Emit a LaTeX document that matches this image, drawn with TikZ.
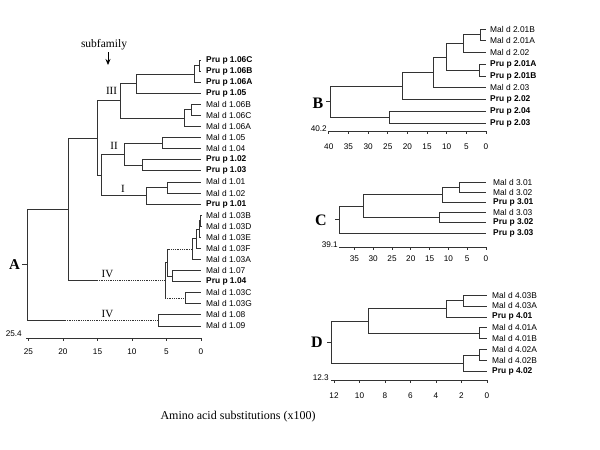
\documentclass[tikz,border=0pt]{standalone}
\usepackage{fontspec}
\setmainfont{Liberation Serif}
\setsansfont{Liberation Sans}
\usetikzlibrary{arrows.meta}
\begin{document}
\begin{tikzpicture}[x=1pt,y=-1pt,
  br/.style={draw=black!80, line width=0.8pt},
  dotbr/.style={draw=black!80, line width=0.8pt, densely dotted},
  leaf/.style={anchor=west, inner sep=0pt, font=\sffamily\fontsize{8.4}{10}\selectfont},
  tick/.style={inner sep=0pt, font=\sffamily\fontsize{8.2}{10}\selectfont},
  roman/.style={inner sep=0pt, font=\fontsize{11}{12}\selectfont},
  big/.style={inner sep=0pt, font=\bfseries\fontsize{16}{18}\selectfont}]
\useasboundingbox (0,0) rectangle (600,450);
\fill[white] (0,0) rectangle (600,450);

% ---------------- Panel A ----------------
\foreach \i/\t/\y/\f in {0/Pru p 1.06C/60/\bfseries,1/Pru p 1.06B/71.1/\bfseries,2/Pru p 1.06A/82.2/\bfseries,3/Pru p 1.05/93.2/\bfseries,
  4/Mal d 1.06B/104.3/\mdseries,5/Mal d 1.06C/115.4/\mdseries,6/Mal d 1.06A/126.5/\mdseries,7/Mal d 1.05/137.6/\mdseries,
  8/Mal d 1.04/148.6/\mdseries,9/Pru p 1.02/159.7/\bfseries,10/Pru p 1.03/170.8/\bfseries,11/Mal d 1.01/181.9/\mdseries,
  12/Mal d 1.02/193/\mdseries,13/Pru p 1.01/204/\bfseries,14/Mal d 1.03B/215.1/\mdseries,15/Mal d 1.03D/226.2/\mdseries,
  16/Mal d 1.03E/237.3/\mdseries,17/Mal d 1.03F/248.4/\mdseries,18/Mal d 1.03A/259.4/\mdseries,19/Mal d 1.07/270.5/\mdseries,
  20/Pru p 1.04/281.6/\bfseries,21/Mal d 1.03C/292.7/\mdseries,22/Mal d 1.03G/303.8/\mdseries,23/Mal d 1.08/314.8/\mdseries,
  24/Mal d 1.09/325.9/\mdseries}{
  \coordinate (eA\i) at (201,\y);
  \node[leaf] (tA\i) at (206,\y) {\f\t};
}
\coordinate (a1) at (199,65.55);
\coordinate (a2) at (194,73.9);
\coordinate (a3) at (136,83.5);
\coordinate (a4) at (191,109.85);
\coordinate (a5) at (184,118.2);
\coordinate (nIII) at (120,100.85);
\coordinate (a6) at (162,143.1);
\coordinate (a7) at (142,165.25);
\coordinate (nII) at (124,154.2);
\coordinate (a8) at (167,187.45);
\coordinate (nI) at (146,195.7);
\coordinate (a9) at (101,174.95);
\coordinate (a10) at (97,137.9);
\coordinate (c1) at (200.5,220.65);
\coordinate (c2) at (199.5,228.98);
\coordinate (c3) at (196,238.7);
\coordinate (c4) at (192,249.05);
\coordinate (c5) at (172,276.05);
\coordinate (P) at (167.5,262.55);
\coordinate (c6) at (185,298.25);
\coordinate (Q) at (165,280.4);
\coordinate (ivA) at (97,280.4);
\coordinate (a11) at (68,209.15);
\coordinate (a12) at (158,320.35);
\coordinate (ivB) at (65,320.35);
\coordinate (rootA) at (27,264.75);

\draw[br] (a1)|-(eA0) (a1)|-(eA1) (a2)|-(a1) (a2)|-(eA2) (a3)|-(a2) (a3)|-(eA3)
  (a4)|-(eA4) (a4)|-(eA5) (a5)|-(a4) (a5)|-(eA6) (nIII)|-(a3) (nIII)|-(a5)
  (a6)|-(eA7) (a6)|-(eA8) (a7)|-(eA9) (a7)|-(eA10) (nII)|-(a6) (nII)|-(a7)
  (a8)|-(eA11) (a8)|-(eA12) (nI)|-(a8) (nI)|-(eA13)
  (a9)|-(nII) (a9)|-(nI) (a10)|-(nIII) (a10)|-(a9)
  (c1)|-(eA14) (c1)|-(eA15) (c2)|-(c1) (c2)|-(eA16) (c3)|-(c2) (c3)|-(eA17)
  (c4)|-(c3) (c4)|-(eA18) (c5)|-(eA19) (c5)|-(eA20)
  (P)--(P|-c4) (P)|-(c5) (c6)|-(eA21) (c6)|-(eA22)
  (Q)|-(P) (Q)--(Q|-c6)
  (a11)|-(a10) (a11)|-(ivA)
  (a12)|-(eA23) (a12)|-(eA24)
  (rootA)|-(a11) (rootA)|-(ivB) (rootA)--++(-5,0);
\draw[dotbr] (P|-c4)--(c4) (Q|-c6)--(c6) (ivA)--(Q) (ivB)--(a12);

\node[roman] (lIII) at (111.5,90.5) {III};
\node[roman] (lII) at (114,146) {II};
\node[roman] (lI) at (123,189) {I};
\node[roman] (lIVa) at (107.5,273.5) {IV};
\node[roman] (lIVb) at (107.5,313.5) {IV};
\node[big, font=\bfseries\fontsize{15}{17}\selectfont] (labA) at (14.5,264.75) {A};

\node[inner sep=0pt, font=\fontsize{11.5}{13}\selectfont] (subf) at (104,45) {subfamily};
\coordinate (arrS) at (108,52);
\coordinate (arrE) at (108,65);
\draw[line width=0.8pt, -{Stealth[length=6pt,width=5pt]}] (arrS)--(arrE);

\coordinate (axA0) at (26,338);
\coordinate (axA1) at (201,338);
\draw[br] (axA0)--(axA1);
\foreach \d in {0,5,10,15,20,25}{
  \draw[br] ({201-6.9*\d},338)--++(0,3);
  \node[tick] (tkA\d) at ({201-6.9*\d},352) {\d};
}
\node[tick, anchor=east] (numA) at (22,334) {25.4};

\node[inner sep=0pt, font=\fontsize{12}{14}\selectfont] (xlab) at (238,417) {Amino acid substitutions (x100)};

% ---------------- Panel B ----------------
\foreach \i/\t/\y/\f in {0/Mal d 2.01B/29/\mdseries,1/Mal d 2.01A/40.75/\mdseries,2/Mal d 2.02/52.5/\mdseries,
  3/Pru p 2.01A/64.25/\bfseries,4/Pru p 2.01B/76/\bfseries,5/Mal d 2.03/87.75/\mdseries,6/Pru p 2.02/99.5/\bfseries,
  7/Pru p 2.04/111.25/\bfseries,8/Pru p 2.03/123/\bfseries}{
  \coordinate (eB\i) at (486,\y);
  \node[leaf] (tB\i) at (490,\y) {\f\t};
}
\coordinate (b1) at (480,34.875);
\coordinate (b2) at (463,43.69);
\coordinate (b3) at (479,70.125);
\coordinate (b4) at (446,56.9);
\coordinate (b5) at (433,72.3);
\coordinate (b6) at (402,85.9);
\coordinate (b7) at (389,117.1);
\coordinate (bR) at (330,101.5);
\draw[br] (b1)|-(eB0) (b1)|-(eB1) (b2)|-(b1) (b2)|-(eB2) (b3)|-(eB3) (b3)|-(eB4)
  (b4)|-(b2) (b4)|-(b3) (b5)|-(b4) (b5)|-(eB5) (b6)|-(b5) (b6)|-(eB6)
  (b7)|-(eB7) (b7)|-(eB8) (bR)|-(b6) (bR)|-(b7) (bR)--++(-4,0);
\node[big] (labB) at (318,103) {B};
\coordinate (axB0) at (328,131);
\coordinate (axB1) at (486,131);
\draw[br] (axB0)--(axB1);
\foreach \d in {0,5,10,15,20,25,30,35,40}{
  \draw[br] ({486-3.93*\d},131)--++(0,3);
  \node[tick] (tkB\d) at ({486-3.93*\d},147) {\d};
}
\node[tick, anchor=east] (numB) at (327,129) {40.2};

% ---------------- Panel C ----------------
\foreach \i/\t/\y/\f in {0/Mal d 3.01/182/\mdseries,1/Mal d 3.02/192.2/\mdseries,2/Pru p 3.01/202.4/\bfseries,
  3/Mal d 3.03/212.6/\mdseries,4/Pru p 3.02/222.8/\bfseries,5/Pru p 3.03/233/\bfseries}{
  \coordinate (eC\i) at (486,\y);
  \node[leaf] (tC\i) at (493,\y) {\f\t};
}
\coordinate (k1) at (459,187.1);
\coordinate (k2) at (442,194.75);
\coordinate (k3) at (439,217.7);
\coordinate (k4) at (363,206.2);
\coordinate (kR) at (339,219.6);
\draw[br] (k1)|-(eC0) (k1)|-(eC1) (k2)|-(k1) (k2)|-(eC2) (k3)|-(eC3) (k3)|-(eC4)
  (k4)|-(k2) (k4)|-(k3) (kR)|-(k4) (kR)|-(eC5) (kR)--++(-4,0);
\node[big] (labC) at (321,220) {C};
\coordinate (axC0) at (339,247);
\coordinate (axC1) at (486,247);
\draw[br] (axC0)--(axC1);
\foreach \d in {0,5,10,15,20,25,30,35}{
  \draw[br] ({486-3.76*\d},247)--++(0,3);
  \node[tick] (tkC\d) at ({486-3.76*\d},259) {\d};
}
\node[tick, anchor=east] (numC) at (338,245) {39.1};

% ---------------- Panel D ----------------
\foreach \i/\t/\y/\f in {0/Mal d 4.03B/295/\mdseries,1/Mal d 4.03A/305.95/\mdseries,2/Pru p 4.01/316.9/\bfseries,
  3/Mal d 4.01A/327.85/\mdseries,4/Mal d 4.01B/338.8/\mdseries,5/Mal d 4.02A/349.75/\mdseries,
  6/Mal d 4.02B/360.7/\mdseries,7/Pru p 4.02/371.65/\bfseries}{
  \coordinate (eD\i) at (487,\y);
  \node[leaf] (tD\i) at (492,\y) {\f\t};
}
\coordinate (d1) at (463,300.5);
\coordinate (d2) at (446,308.7);
\coordinate (d3) at (479,333.3);
\coordinate (d4) at (368,321);
\coordinate (d5) at (479,355.2);
\coordinate (d6) at (463,363.4);
\coordinate (dR) at (331,342.2);
\draw[br] (d1)|-(eD0) (d1)|-(eD1) (d2)|-(d1) (d2)|-(eD2) (d3)|-(eD3) (d3)|-(eD4)
  (d4)|-(d2) (d4)|-(d3) (d5)|-(eD5) (d5)|-(eD6) (d6)|-(d5) (d6)|-(eD7)
  (dR)|-(d4) (dR)|-(d6) (dR)--++(-4,0);
\node[big] (labD) at (317,342.5) {D};
\coordinate (axD0) at (331,380);
\coordinate (axD1) at (487,380);
\draw[br] (axD0)--(axD1);
\foreach \d in {0,2,4,6,8,10,12}{
  \draw[br] ({487-12.75*\d},380)--++(0,3);
  \node[tick] (tkD\d) at ({487-12.75*\d},396) {\d};
}
\node[tick, anchor=east] (numD) at (329,378) {12.3};
\end{tikzpicture}
\end{document}
